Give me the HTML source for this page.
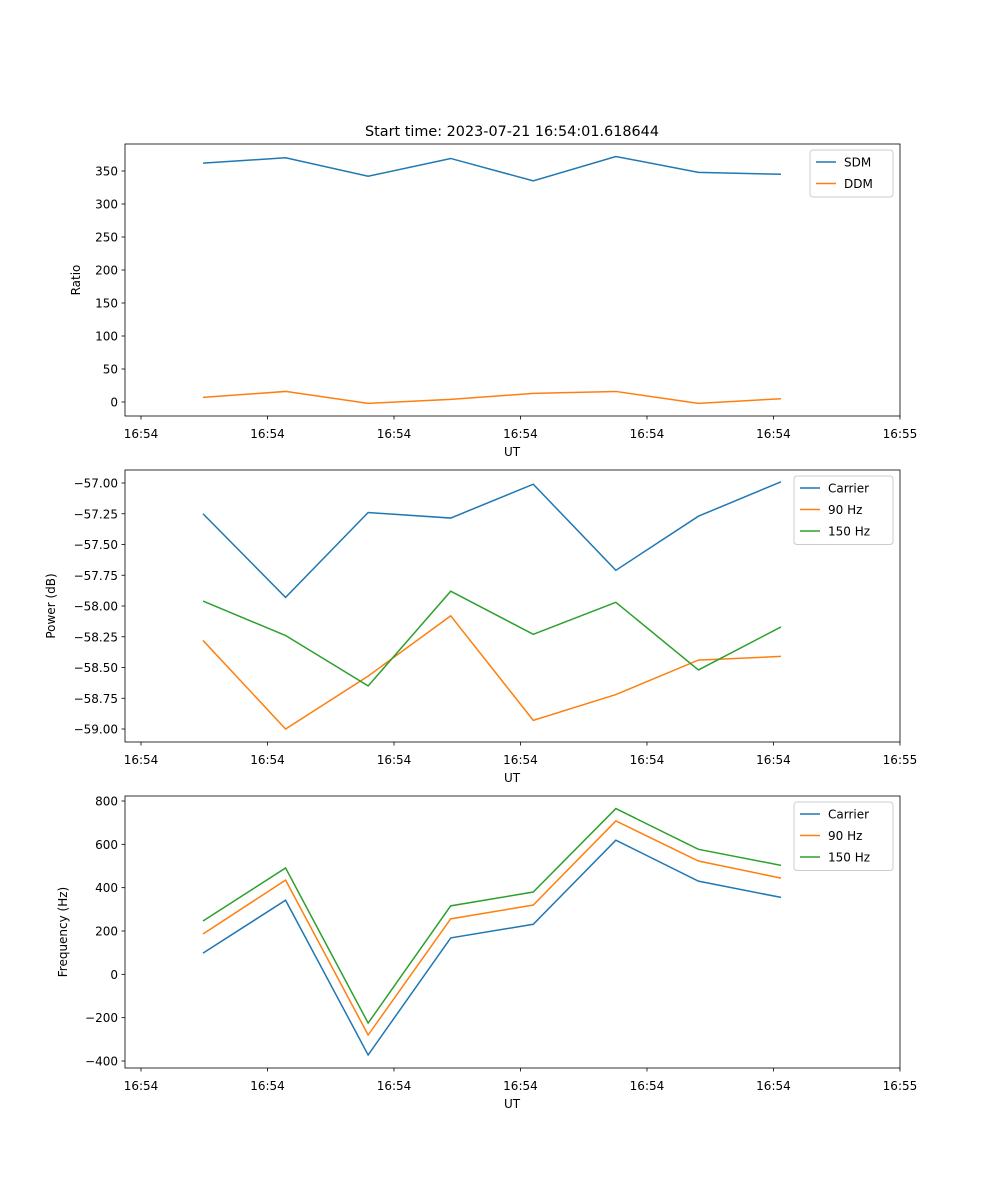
<!DOCTYPE html>
<html><head><meta charset="utf-8"><style>
body{margin:0;background:#fff;}
svg{display:block;font-family:"DejaVu Sans","Liberation Sans",sans-serif;}
</style></head><body>
<svg id="fig" width="1000" height="1200"></svg>
<script>
const xTickLabels=["16:54","16:54","16:54","16:54","16:54","16:54","16:55"];
const xTickVals=[-0.751,0.781,2.313,3.845,5.377,6.909,8.441];
const ratioTicks=[0,50,100,150,200,250,300,350];
const sdm=[362,370,342,369,335,372,348,345];
const ddm=[7,16,-2,4,13,16,-2,5];
const powerTicks=[-59.00,-58.75,-58.50,-58.25,-58.00,-57.75,-57.50,-57.25,-57.00];
const powCarrier=[-57.25,-57.93,-57.24,-57.285,-57.01,-57.71,-57.27,-56.99];
const pow90=[-58.28,-59.0,-58.57,-58.08,-58.93,-58.72,-58.44,-58.41];
const pow150=[-57.96,-58.24,-58.65,-57.88,-58.23,-57.97,-58.52,-58.17];
const freqTicks=[-400,-200,0,200,400,600,800];
const freqCarrier=[98,342,-372,168,231,619,430,355];
const freq90=[186,435,-280,256,320,708,523,444];
const freq150=[246,491,-225,316,380,765,577,503];

const NS="http://www.w3.org/2000/svg";
const svg=document.getElementById('fig');
function mk(tag,attrs,parent){const e=document.createElementNS(NS,tag);for(const k in attrs)e.setAttribute(k,attrs[k]);(parent||svg).appendChild(e);return e;}
const L=125,R=900;
function xs(i){return 203+82.57*i;}
const blue="#1f77b4",orange="#ff7f0e",green="#2ca02c";

function panel(name,top,bot,v0,p0,v1,p1,ticks,fmt,ylabel,series,legend){
  const g=mk('g',{});
  
  
  const ys=v=>p0+(v-v0)*(p1-p0)/(v1-v0);
  series.forEach(s=>{
    const pl=mk('polyline',{points:s.d.map((v,i)=>xs(i)+','+ys(v)).join(' '),fill:'none',stroke:s.c,'stroke-width':1.5},g);
    
    
  });
  mk('rect',{x:L,y:top,width:R-L,height:bot-top,fill:'none',stroke:'#000','stroke-width':0.8},g);
  xTickVals.forEach((t,k)=>{const x=xs(t);
    mk('line',{x1:x,x2:x,y1:bot,y2:bot+3.5,stroke:'#000','stroke-width':0.8},g);
    const tx=mk('text',{x:x,y:bot+22,'text-anchor':'middle','font-size':12},g);tx.textContent=xTickLabels[k];
    });
  ticks.forEach(t=>{const y=ys(t);
    mk('line',{x1:L-3.5,x2:L,y1:y,y2:y,stroke:'#000','stroke-width':0.8},g);
    const tx=mk('text',{x:L-7,y:y+4.5,'text-anchor':'end','font-size':12},g);tx.textContent=fmt(t);
    });
  const xl=mk('text',{x:512,y:bot+40,'text-anchor':'middle','font-size':12},g);xl.textContent='UT';
  
  const yc=(top+bot)/2;
  const yl=mk('text',{x:0,y:0,'text-anchor':'middle','font-size':12,transform:`translate(${legend.yx},${yc}) rotate(-90)`},g);yl.textContent=ylabel;
  
  const lg=mk('g',{},g);
  
  mk('rect',{x:legend.x,y:top+6,width:R-7-legend.x,height:series.length*21.5+4,rx:3,fill:'#fff',stroke:'#ccc','stroke-width':1},lg);
  series.forEach((s,i)=>{const y=top+18+i*21.5;
    mk('line',{x1:legend.x+6,x2:legend.x+26,y1:y,y2:y,stroke:s.c,'stroke-width':1.5},lg);
    const t=mk('text',{x:legend.x+34,y:y+4.5,'font-size':12},lg);t.textContent=s.n;
    });
}
const title=mk('text',{x:512,y:136,'text-anchor':'middle','font-size':14.4});
title.textContent='Start time: 2023-07-21 16:54:01.618644';


panel('ratio-panel',144,416,0,402,350,171,ratioTicks,t=>String(t),'Ratio',
  [{n:'SDM',d:sdm,c:blue},{n:'DDM',d:ddm,c:orange}],{x:810,yx:80});
panel('power-panel',470,742,-57,483,-59,729,powerTicks,t=>'\u2212'+Math.abs(t).toFixed(2),'Power (dB)',
  [{n:'Carrier',d:powCarrier,c:blue},{n:'90 Hz',d:pow90,c:orange},{n:'150 Hz',d:pow150,c:green}],{x:794,yx:55});
panel('frequency-panel',796,1068,800,801,-400,1061,freqTicks,t=>(t<0?'\u2212':'')+Math.abs(t),'Frequency (Hz)',
  [{n:'Carrier',d:freqCarrier,c:blue},{n:'90 Hz',d:freq90,c:orange},{n:'150 Hz',d:freq150,c:green}],{x:794,yx:67});
</script>
</body></html>
